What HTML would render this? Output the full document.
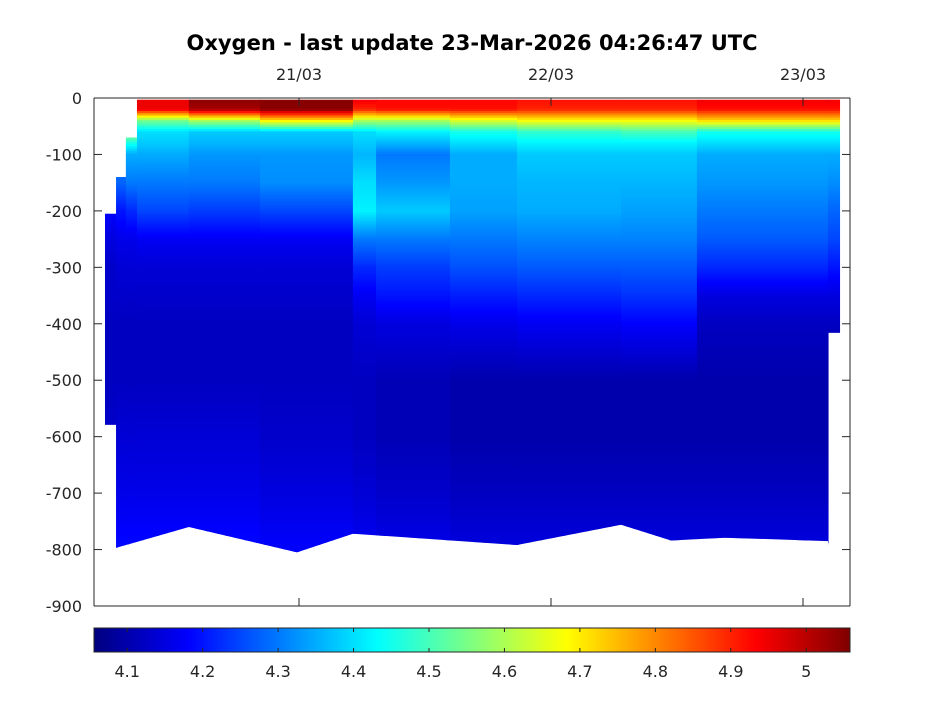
<!DOCTYPE html>
<html><head><meta charset="utf-8">
<style>
html,body{margin:0;padding:0;background:#fff;}
svg{display:block;font-family:"DejaVu Sans","Liberation Sans",sans-serif;}
</style></head>
<body>
<svg id="chart" width="945" height="709" viewBox="0 0 945 709" xmlns="http://www.w3.org/2000/svg">
<text x="472" y="50" text-anchor="middle" font-size="21" font-weight="bold" fill="#000">Oxygen - last update 23-Mar-2026 04:26:47 UTC</text>
<defs><clipPath id="dataClip"><polygon id="clipPoly" points=""/></clipPath></defs>
<g id="heat" clip-path="url(#dataClip)"></g>
<g id="axes"></g>
<g id="cbar"></g>
</svg>
<script>
// ---- data ----
const depthLevels = [0,20,40,60,80,100,150,200,250,300,350,400,500,600,700,800];
const colStart = [0.230,0.274,0.313,0.357,0.563,0.845,1.214,1.306,1.599,1.865,2.278,2.579,3.099];
const colEnd   = [0.274,0.313,0.357,0.563,0.845,1.214,1.306,1.599,1.865,2.278,2.579,3.099,3.147];
const colTop    = [205,140,70,3,3,3,3,3,3,3,3,3,3];
const colBottom = [578,810,810,810,810,810,810,810,810,810,810,810,415];
const colValues = [
 [4.2,4.2,4.2,4.2,4.2,4.2,4.2,4.18,4.15,4.13,4.13,4.12,4.12,4.13,4.15,4.17],
 [4.3,4.3,4.3,4.3,4.3,4.3,4.28,4.2,4.16,4.14,4.13,4.12,4.12,4.14,4.16,4.19],
 [4.6,4.6,4.6,4.6,4.45,4.35,4.3,4.22,4.16,4.14,4.13,4.12,4.12,4.14,4.16,4.19],
 [4.95,4.95,4.55,4.4,4.38,4.35,4.3,4.25,4.17,4.14,4.13,4.12,4.12,4.14,4.16,4.19],
 [5.05,5.02,4.6,4.38,4.36,4.33,4.3,4.24,4.17,4.14,4.13,4.12,4.12,4.14,4.16,4.19],
 [5.05,5.05,4.7,4.38,4.36,4.33,4.32,4.25,4.17,4.14,4.13,4.12,4.12,4.13,4.15,4.18],
 [4.95,4.9,4.6,4.4,4.38,4.36,4.4,4.42,4.3,4.22,4.17,4.14,4.12,4.12,4.14,4.17],
 [4.93,4.92,4.6,4.42,4.36,4.3,4.33,4.38,4.3,4.24,4.2,4.15,4.11,4.11,4.13,4.16],
 [4.93,4.92,4.65,4.45,4.4,4.35,4.35,4.34,4.3,4.26,4.21,4.16,4.1,4.1,4.12,4.15],
 [4.92,4.9,4.68,4.48,4.42,4.38,4.36,4.35,4.31,4.27,4.22,4.17,4.1,4.1,4.12,4.15],
 [4.92,4.9,4.68,4.5,4.42,4.38,4.36,4.34,4.31,4.27,4.23,4.18,4.1,4.1,4.12,4.15],
 [4.95,4.92,4.72,4.45,4.4,4.35,4.33,4.3,4.27,4.22,4.15,4.12,4.1,4.1,4.12,4.15],
 [4.95,4.92,4.72,4.45,4.4,4.35,4.32,4.28,4.25,4.2,4.15,4.12,4.1,4.1,4.12,4.15]
];
const bottomTimes  = [0.274,0.563,0.992,1.214,1.865,2.278,2.476,2.690,3.099];
const bottomDepths = [797,760,805,772,792,756,784,779,785];
const xTickTimes  = [1,2,3];
const xTickLabels = ["21/03","22/03","23/03"];
const yTicks = [0,-100,-200,-300,-400,-500,-600,-700,-800,-900];
const cTicks = [4.1,4.2,4.3,4.4,4.5,4.6,4.7,4.8,4.9,5];
const cMin = 4.056, cMax = 5.058;

// ---- scales ----
const X0=94,X1=850,Y0=98,Y1=606;
const xs = t => 47 + 252*t;
const ys = d => Y0 + (d/900)*(Y1-Y0);
const cs = v => X0 + (v-cMin)/(cMax-cMin)*(X1-X0);
const NS="http://www.w3.org/2000/svg";
function jet(v){
  let f=(v-cMin)/(cMax-cMin); f=Math.max(0,Math.min(1,f));
  const c=x=>Math.max(0,Math.min(1,x));
  const r=c(1.5-Math.abs(4*f-3)), g=c(1.5-Math.abs(4*f-2)), b=c(1.5-Math.abs(4*f-1));
  return `rgb(${Math.round(r*255)},${Math.round(g*255)},${Math.round(b*255)})`;
}
function interp(vals,d){
  if(d<=depthLevels[0]) return vals[0];
  for(let i=1;i<depthLevels.length;i++){
    if(d<=depthLevels[i]){const a=depthLevels[i-1],b=depthLevels[i];return vals[i-1]+(vals[i]-vals[i-1])*(d-a)/(b-a);}
  }
  return vals[vals.length-1];
}
// clip polygon
let pts=[[xs(colStart[0]),ys(0)],[xs(colEnd[colEnd.length-1]),ys(0)],[xs(colEnd[colEnd.length-1]),ys(900)]];
for(let i=bottomTimes.length-1;i>=0;i--) pts.push([xs(bottomTimes[i]),ys(bottomDepths[i])]);
pts.push([xs(colStart[0]),ys(bottomDepths[0])]);
document.getElementById('clipPoly').setAttribute('points',pts.map(p=>p.join(',')).join(' '));

const heat=document.getElementById('heat');
for(let c=0;c<colStart.length;c++){
  const x0=xs(colStart[c]), x1=xs(colEnd[c]);
  const step=4;
  for(let d=colTop[c]; d<colBottom[c]; d+=step){
    const r=document.createElementNS(NS,'rect');
    
    
    const dEnd=Math.min(d+step,colBottom[c]);
    r.setAttribute('x',x0);r.setAttribute('width',x1-x0+0.6);
    r.setAttribute('y',ys(d));r.setAttribute('height',ys(dEnd)-ys(d)+0.6);
    r.setAttribute('fill',jet(interp(colValues[c],d+step/2)));
    heat.appendChild(r);
  }
}
// axes
const ax=document.getElementById('axes');
function line(g,x1,y1,x2,y2,name){const l=document.createElementNS(NS,'line');
 
 
 l.setAttribute('x1',x1);l.setAttribute('y1',y1);l.setAttribute('x2',x2);l.setAttribute('y2',y2);
 l.setAttribute('stroke','#262626');l.setAttribute('stroke-width','1');g.appendChild(l);}
function text(g,x,y,s,anchor,name){const t=document.createElementNS(NS,'text');
 
 
 t.setAttribute('x',x);t.setAttribute('y',y);t.setAttribute('text-anchor',anchor);
 t.setAttribute('font-size','16');t.setAttribute('fill','#262626');t.textContent=s;g.appendChild(t);}
line(ax,X0,Y0,X0,Y1,'y-axis-line');line(ax,X1,Y0,X1,Y1,'right-axis-line');
line(ax,X0,Y0,X1,Y0,'top-axis-line');line(ax,X0,Y1,X1,Y1,'bottom-axis-line');
yTicks.forEach(v=>{const y=ys(-v);line(ax,X0,y,X0+8,y,'y-tick');line(ax,X1,y,X1-8,y,'y-tick-right');
 text(ax,82,y+6,String(v),'end','y-tick-label');});
xTickTimes.forEach((t,i)=>{const x=xs(t);line(ax,x,Y0,x,Y0+8,'x-tick');line(ax,x,Y1,x,Y1-8,'x-tick-bottom');
 text(ax,x,80,xTickLabels[i],'middle','x-tick-label');});
// colorbar
const cb=document.getElementById('cbar');
for(let i=0;i<X1-X0;i++){const r=document.createElementNS(NS,'rect');
 
 
 r.setAttribute('x',X0+i);r.setAttribute('y',628);r.setAttribute('width',1.5);r.setAttribute('height',24);
 r.setAttribute('fill',jet(cMin+(i+0.5)/(X1-X0)*(cMax-cMin)));cb.appendChild(r);}
const fr=document.createElementNS(NS,'rect');


fr.setAttribute('x',X0);fr.setAttribute('y',628);fr.setAttribute('width',X1-X0);fr.setAttribute('height',24);
fr.setAttribute('fill','none');fr.setAttribute('stroke','#262626');cb.appendChild(fr);
cTicks.forEach(v=>{const x=cs(v);line(cb,x,628,x,632,'colorbar-tick');line(cb,x,652,x,648,'colorbar-tick-bottom');
 text(cb,x,677,String(v),'middle','colorbar-tick-label');});
</script>
</body></html>
